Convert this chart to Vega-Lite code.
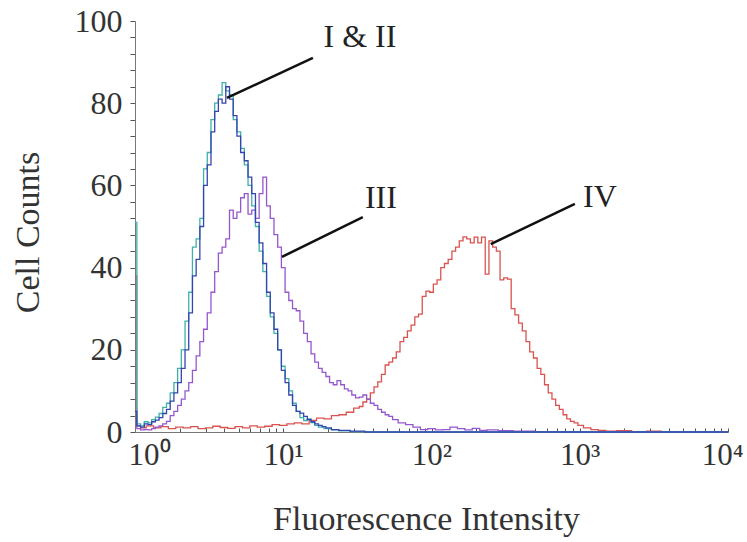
{
  "$schema": "https://vega.github.io/schema/vega-lite/v6.json",
  "width": 593,
  "height": 411,
  "autosize": {"type": "none"},
  "padding": {"left": 135, "top": 21, "right": 19, "bottom": 110},
  "background": "white",
  "config": {
    "view": {"stroke": null},
    "font": "Liberation Serif",
    "axis": {"labelOverlap": false, "labelBound": false, "labelFlush": false}
  },
  "datasets": {
    "curves": [
      {"s":"IV","x":1,"y":38},{"s":"IV","x":1.059,"y":1.5},{"s":"IV","x":1.122,"y":1},{"s":"IV","x":1.259,"y":1.5},{"s":"IV","x":1.413,"y":1},{"s":"IV","x":1.585,"y":1.3},{"s":"IV","x":1.778,"y":0.8},{"s":"IV","x":1.995,"y":1.2},{"s":"IV","x":2.239,"y":1},{"s":"IV","x":2.512,"y":1.3},{"s":"IV","x":2.818,"y":0.8},{"s":"IV","x":3.162,"y":1},{"s":"IV","x":3.548,"y":1.4},{"s":"IV","x":3.981,"y":1.1},{"s":"IV","x":4.467,"y":0.9},{"s":"IV","x":5.012,"y":1.3},{"s":"IV","x":5.623,"y":1},{"s":"IV","x":6.31,"y":1.5},{"s":"IV","x":7.079,"y":1.2},{"s":"IV","x":7.943,"y":1.4},{"s":"IV","x":8.913,"y":1.8},{"s":"IV","x":10,"y":1.6},{"s":"IV","x":11.22,"y":2},{"s":"IV","x":12.59,"y":2.2},{"s":"IV","x":14.13,"y":2},{"s":"IV","x":15.85,"y":2.8},{"s":"IV","x":17.78,"y":3.4},{"s":"IV","x":19.95,"y":3.2},{"s":"IV","x":22.39,"y":4},{"s":"IV","x":25.12,"y":4.2},{"s":"IV","x":28.18,"y":4.8},{"s":"IV","x":31.62,"y":5.8},{"s":"IV","x":33.5,"y":6.2},{"s":"IV","x":35.48,"y":7.3},{"s":"IV","x":37.58,"y":8},{"s":"IV","x":39.81,"y":9.5},{"s":"IV","x":42.17,"y":11},{"s":"IV","x":44.67,"y":12.2},{"s":"IV","x":47.32,"y":14},{"s":"IV","x":50.12,"y":16.3},{"s":"IV","x":53.09,"y":17},{"s":"IV","x":56.23,"y":18},{"s":"IV","x":59.57,"y":19.5},{"s":"IV","x":63.1,"y":22},{"s":"IV","x":66.83,"y":23},{"s":"IV","x":70.79,"y":24.6},{"s":"IV","x":74.99,"y":26},{"s":"IV","x":79.43,"y":28},{"s":"IV","x":84.14,"y":28.7},{"s":"IV","x":89.13,"y":33},{"s":"IV","x":94.41,"y":34.3},{"s":"IV","x":100,"y":34},{"s":"IV","x":105.9,"y":36},{"s":"IV","x":112.2,"y":37},{"s":"IV","x":118.9,"y":40},{"s":"IV","x":125.9,"y":41},{"s":"IV","x":133.4,"y":42},{"s":"IV","x":141.3,"y":44},{"s":"IV","x":149.6,"y":45},{"s":"IV","x":158.5,"y":46.5},{"s":"IV","x":167.9,"y":47.5},{"s":"IV","x":177.8,"y":47},{"s":"IV","x":188.4,"y":46},{"s":"IV","x":199.5,"y":47.4},{"s":"IV","x":211.3,"y":46},{"s":"IV","x":223.9,"y":47.4},{"s":"IV","x":237.1,"y":38.4},{"s":"IV","x":251.2,"y":46.5},{"s":"IV","x":266.1,"y":45},{"s":"IV","x":281.8,"y":44},{"s":"IV","x":298.5,"y":37},{"s":"IV","x":316.2,"y":37.5},{"s":"IV","x":335,"y":37.2},{"s":"IV","x":354.8,"y":30},{"s":"IV","x":375.8,"y":28.5},{"s":"IV","x":398.1,"y":26.5},{"s":"IV","x":421.7,"y":24.6},{"s":"IV","x":446.7,"y":22},{"s":"IV","x":473.2,"y":19.5},{"s":"IV","x":501.2,"y":18},{"s":"IV","x":530.9,"y":15.5},{"s":"IV","x":562.3,"y":14},{"s":"IV","x":595.7,"y":11.5},{"s":"IV","x":631,"y":9.5},{"s":"IV","x":668.3,"y":8},{"s":"IV","x":707.9,"y":6.5},{"s":"IV","x":749.9,"y":5.5},{"s":"IV","x":794.3,"y":4.2},{"s":"IV","x":841.4,"y":3.2},{"s":"IV","x":891.3,"y":2.6},{"s":"IV","x":944.1,"y":2.2},{"s":"IV","x":1000,"y":1.6},{"s":"IV","x":1122,"y":1},{"s":"IV","x":1259,"y":0.6},{"s":"IV","x":1413,"y":0.4},{"s":"IV","x":1585,"y":0.2},{"s":"IV","x":1995,"y":0.3},{"s":"IV","x":2512,"y":0.1},{"s":"IV","x":3162,"y":0.2},{"s":"IV","x":3981,"y":0},{"s":"IV","x":10000,"y":0},

      {"s":"III","x":1,"y":3},{"s":"III","x":1.059,"y":0.8},{"s":"III","x":1.122,"y":0.5},{"s":"III","x":1.189,"y":0.6},{"s":"III","x":1.259,"y":0.5},{"s":"III","x":1.334,"y":0.8},{"s":"III","x":1.413,"y":1.2},{"s":"III","x":1.496,"y":1.5},{"s":"III","x":1.585,"y":2},{"s":"III","x":1.679,"y":2.6},{"s":"III","x":1.778,"y":4},{"s":"III","x":1.884,"y":5},{"s":"III","x":1.995,"y":6.5},{"s":"III","x":2.113,"y":8},{"s":"III","x":2.239,"y":10},{"s":"III","x":2.371,"y":12},{"s":"III","x":2.512,"y":15},{"s":"III","x":2.661,"y":18.5},{"s":"III","x":2.818,"y":22},{"s":"III","x":2.985,"y":25},{"s":"III","x":3.162,"y":29},{"s":"III","x":3.35,"y":34},{"s":"III","x":3.548,"y":39},{"s":"III","x":3.758,"y":43.5},{"s":"III","x":3.981,"y":45},{"s":"III","x":4.217,"y":47},{"s":"III","x":4.467,"y":54},{"s":"III","x":4.732,"y":52},{"s":"III","x":5.012,"y":53.5},{"s":"III","x":5.309,"y":57},{"s":"III","x":5.623,"y":58},{"s":"III","x":5.957,"y":53},{"s":"III","x":6.31,"y":54},{"s":"III","x":6.683,"y":52},{"s":"III","x":7.079,"y":58},{"s":"III","x":7.499,"y":62},{"s":"III","x":7.943,"y":55},{"s":"III","x":8.414,"y":52},{"s":"III","x":8.913,"y":48},{"s":"III","x":9.441,"y":45},{"s":"III","x":10,"y":40},{"s":"III","x":10.59,"y":34},{"s":"III","x":11.22,"y":32},{"s":"III","x":11.89,"y":30},{"s":"III","x":12.59,"y":29.5},{"s":"III","x":13.34,"y":27},{"s":"III","x":14.13,"y":24},{"s":"III","x":14.96,"y":22},{"s":"III","x":15.85,"y":19},{"s":"III","x":16.79,"y":17},{"s":"III","x":17.78,"y":15.5},{"s":"III","x":18.84,"y":14.5},{"s":"III","x":19.95,"y":13.5},{"s":"III","x":21.13,"y":12},{"s":"III","x":22.39,"y":11.5},{"s":"III","x":23.71,"y":12.5},{"s":"III","x":25.12,"y":11.5},{"s":"III","x":26.61,"y":10.5},{"s":"III","x":28.18,"y":10},{"s":"III","x":29.85,"y":9},{"s":"III","x":31.62,"y":8.3},{"s":"III","x":33.5,"y":8.5},{"s":"III","x":35.48,"y":9},{"s":"III","x":37.58,"y":8},{"s":"III","x":39.81,"y":7},{"s":"III","x":42.17,"y":6.5},{"s":"III","x":44.67,"y":5.5},{"s":"III","x":47.32,"y":4.8},{"s":"III","x":50.12,"y":4.2},{"s":"III","x":53.09,"y":3.8},{"s":"III","x":56.23,"y":3},{"s":"III","x":63.1,"y":2.2},{"s":"III","x":70.79,"y":1.8},{"s":"III","x":79.43,"y":1.2},{"s":"III","x":89.13,"y":0.6},{"s":"III","x":100,"y":0.8},{"s":"III","x":112.2,"y":0.5},{"s":"III","x":125.9,"y":0.6},{"s":"III","x":141.3,"y":1.2},{"s":"III","x":158.5,"y":0.8},{"s":"III","x":177.8,"y":0.5},{"s":"III","x":199.5,"y":0.9},{"s":"III","x":223.9,"y":0.4},{"s":"III","x":251.2,"y":0.5},{"s":"III","x":316.2,"y":0.3},{"s":"III","x":398.1,"y":0.2},{"s":"III","x":631,"y":0.1},{"s":"III","x":1000,"y":0},{"s":"III","x":10000,"y":0},

      {"s":"II","x":1,"y":51},{"s":"II","x":1.059,"y":2},{"s":"II","x":1.122,"y":1.5},{"s":"II","x":1.189,"y":2.5},{"s":"II","x":1.259,"y":2.2},{"s":"II","x":1.334,"y":3},{"s":"II","x":1.413,"y":3.6},{"s":"II","x":1.496,"y":4.5},{"s":"II","x":1.585,"y":6},{"s":"II","x":1.679,"y":7},{"s":"II","x":1.778,"y":9.5},{"s":"II","x":1.884,"y":12},{"s":"II","x":1.995,"y":15.5},{"s":"II","x":2.113,"y":20},{"s":"II","x":2.239,"y":27},{"s":"II","x":2.371,"y":34},{"s":"II","x":2.512,"y":45},{"s":"II","x":2.661,"y":47},{"s":"II","x":2.818,"y":52},{"s":"II","x":2.985,"y":64},{"s":"II","x":3.162,"y":68},{"s":"II","x":3.35,"y":76},{"s":"II","x":3.548,"y":80},{"s":"II","x":3.758,"y":82},{"s":"II","x":3.981,"y":85},{"s":"II","x":4.217,"y":83},{"s":"II","x":4.467,"y":82},{"s":"II","x":4.732,"y":76},{"s":"II","x":5.012,"y":73},{"s":"II","x":5.309,"y":69},{"s":"II","x":5.623,"y":65},{"s":"II","x":5.957,"y":60},{"s":"II","x":6.31,"y":55},{"s":"II","x":6.683,"y":50},{"s":"II","x":7.079,"y":44},{"s":"II","x":7.499,"y":39},{"s":"II","x":7.943,"y":33},{"s":"II","x":8.414,"y":28},{"s":"II","x":8.913,"y":24},{"s":"II","x":9.441,"y":20},{"s":"II","x":10,"y":16},{"s":"II","x":10.59,"y":13},{"s":"II","x":11.22,"y":10},{"s":"II","x":11.89,"y":7},{"s":"II","x":12.59,"y":5},{"s":"II","x":13.34,"y":3.5},{"s":"II","x":14.13,"y":2.8},{"s":"II","x":14.96,"y":3.2},{"s":"II","x":15.85,"y":2.3},{"s":"II","x":16.79,"y":1.6},{"s":"II","x":17.78,"y":1.2},{"s":"II","x":19.95,"y":0.8},{"s":"II","x":22.39,"y":0.5},{"s":"II","x":25.12,"y":0.3},{"s":"II","x":31.62,"y":0.1},{"s":"II","x":39.81,"y":0},{"s":"II","x":10000,"y":0},

      {"s":"I","x":1,"y":5},{"s":"I","x":1.059,"y":1.5},{"s":"I","x":1.122,"y":1.2},{"s":"I","x":1.189,"y":2},{"s":"I","x":1.259,"y":1.8},{"s":"I","x":1.334,"y":2.5},{"s":"I","x":1.413,"y":2.9},{"s":"I","x":1.496,"y":3.5},{"s":"I","x":1.585,"y":4.5},{"s":"I","x":1.679,"y":5.5},{"s":"I","x":1.778,"y":7.5},{"s":"I","x":1.884,"y":9.5},{"s":"I","x":1.995,"y":12},{"s":"I","x":2.113,"y":15.5},{"s":"I","x":2.239,"y":20},{"s":"I","x":2.371,"y":29},{"s":"I","x":2.512,"y":38},{"s":"I","x":2.661,"y":42},{"s":"I","x":2.818,"y":50},{"s":"I","x":2.985,"y":60},{"s":"I","x":3.162,"y":65},{"s":"I","x":3.35,"y":73},{"s":"I","x":3.548,"y":78},{"s":"I","x":3.758,"y":81},{"s":"I","x":3.981,"y":80},{"s":"I","x":4.217,"y":84},{"s":"I","x":4.467,"y":81},{"s":"I","x":4.732,"y":77},{"s":"I","x":5.012,"y":72},{"s":"I","x":5.309,"y":68},{"s":"I","x":5.623,"y":66},{"s":"I","x":5.957,"y":62},{"s":"I","x":6.31,"y":58},{"s":"I","x":6.683,"y":51},{"s":"I","x":7.079,"y":46},{"s":"I","x":7.499,"y":41},{"s":"I","x":7.943,"y":34},{"s":"I","x":8.414,"y":29},{"s":"I","x":8.913,"y":25},{"s":"I","x":9.441,"y":20},{"s":"I","x":10,"y":15},{"s":"I","x":10.59,"y":12},{"s":"I","x":11.22,"y":9},{"s":"I","x":11.89,"y":6.5},{"s":"I","x":12.59,"y":5},{"s":"I","x":13.34,"y":4.6},{"s":"I","x":14.13,"y":3.8},{"s":"I","x":14.96,"y":3},{"s":"I","x":15.85,"y":2.5},{"s":"I","x":16.79,"y":2},{"s":"I","x":17.78,"y":1.6},{"s":"I","x":18.84,"y":1.3},{"s":"I","x":19.95,"y":1},{"s":"I","x":22.39,"y":0.6},{"s":"I","x":25.12,"y":0.4},{"s":"I","x":31.62,"y":0.2},{"s":"I","x":39.81,"y":0},{"s":"I","x":10000,"y":0}
    ],
    "links": [
      {"x":4.17,"y":81.3,"xe":15.85,"ye":91.0},
      {"x":9.8,"y":42.6,"xe":34.4,"ye":52.3},
      {"x":251,"y":45.7,"xe":927,"ye":55.5}
    ],
    "notes": [
      {"x":32.9,"y":96.1,"label":"I & II"},
      {"x":45.6,"y":56.9,"label":"III"},
      {"x":1368,"y":57.2,"label":"IV"}
    ]
  },
  "layer": [
    {
      "data": {"name": "curves"},
      "mark": {"type": "line", "interpolate": "step", "strokeWidth": 1.3},
      "encoding": {
        "x": {
          "field": "x", "type": "quantitative",
          "scale": {"type": "log", "domain": [1, 10000], "nice": false},
          "axis": {
            "title": "Fluorescence Intensity",
            "values": [1,2,3,4,5,6,7,8,9,10,20,30,40,50,60,70,80,90,100,200,300,400,500,600,700,800,900,1000,2000,3000,4000,5000,6000,7000,8000,9000,10000],
            "tickCount": 200,
            "labelExpr": "abs(log(datum.value)/LN10 - round(log(datum.value)/LN10)) < 0.001 ? '10' + ['⁰','¹','²','³','⁴'][round(log(datum.value)/LN10)] : ''",
            "labelAlign": {"condition": [{"test": "datum.value <= 1", "value": "left"}, {"test": "datum.value >= 10000", "value": "right"}], "value": "center"},
            "labelOffset": {"condition": [{"test": "datum.value <= 1", "value": -7}, {"test": "datum.value >= 10000", "value": 15}], "value": 0},
            "labelFlush": false,
            "labelOverlap": false,
            "labelBound": false,
            "tickSize": -4,
            "tickColor": "#555",
            "domainColor": "#777",
            "grid": false,
            "labelFont": "Liberation Serif",
            "labelFontSize": 31,
            "labelColor": "#333",
            "labelPadding": 12,
            "titleFont": "Liberation Serif",
            "titleFontSize": 34,
            "titleFontWeight": "normal",
            "titleColor": "#333",
            "titleX": 291,
            "titleY": 70
          }
        },
        "y": {
          "field": "y", "type": "quantitative",
          "scale": {"domain": [0, 100], "nice": false},
          "axis": {
            "title": "Cell Counts",
            "values": [0,4,8,12,16,20,24,28,32,36,40,44,48,52,56,60,64,68,72,76,80,84,88,92,96,100],
            "tickCount": 200,
            "labelExpr": "datum.value % 20 === 0 ? format(datum.value, 'd') : ''",
            "labelFontSize": {"condition": {"test": "datum.value % 20 !== 0", "value": 1}, "value": 32},
            "labelOverlap": false,
            "tickSize": 5,
            "tickColor": "#555",
            "domainColor": "#777",
            "grid": false,
            "labelFont": "Liberation Serif",
            "labelColor": "#333",
            "labelPadding": 8,
            "titleFont": "Liberation Serif",
            "titleFontSize": 34,
            "titleFontWeight": "normal",
            "titleColor": "#333",
            "titleX": -90,
            "titleY": 211
          }
        },
        "color": {
          "field": "s", "type": "nominal",
          "scale": {"domain": ["IV", "III", "II", "I"], "range": ["#d9534f", "#9457cf", "#3fb0aa", "#3445b0"]},
          "legend": null
        }
      }
    },
    {
      "data": {"name": "links"},
      "mark": {"type": "rule", "strokeWidth": 2.5, "color": "#111"},
      "encoding": {
        "x": {"field": "x", "type": "quantitative", "title": "Fluorescence Intensity"},
        "y": {"field": "y", "type": "quantitative", "title": "Cell Counts"},
        "x2": {"field": "xe"},
        "y2": {"field": "ye"}
      }
    },
    {
      "data": {"name": "notes"},
      "mark": {"type": "text", "font": "Liberation Serif", "fontSize": 32, "color": "#222", "align": "center", "baseline": "middle"},
      "encoding": {
        "x": {"field": "x", "type": "quantitative", "title": "Fluorescence Intensity"},
        "y": {"field": "y", "type": "quantitative", "title": "Cell Counts"},
        "text": {"field": "label"}
      }
    }
  ]
}
